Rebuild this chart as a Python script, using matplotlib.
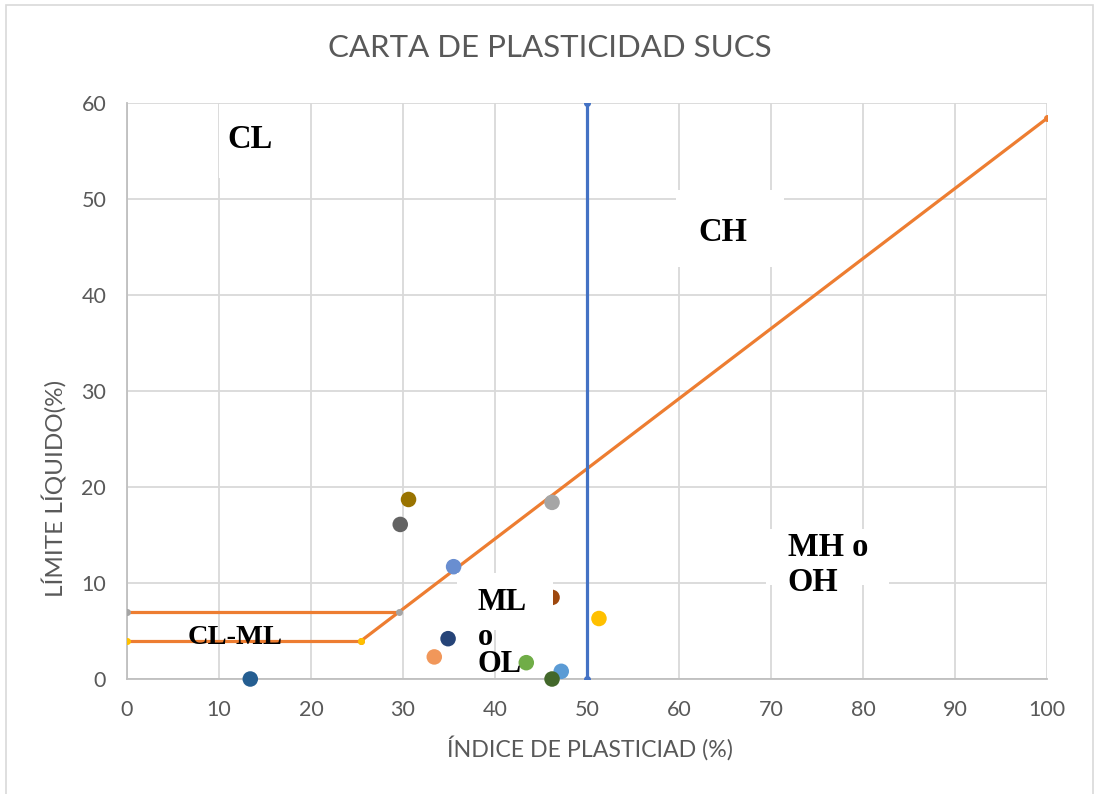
import matplotlib
matplotlib.use("Agg")
import matplotlib.pyplot as plt
from matplotlib.patches import Rectangle

# Sample points (plasticity index, liquid limit)
ip_values = [30.6, 29.7, 46.2, 35.5, 46.2, 51.3, 34.9, 33.4, 43.4, 47.2, 46.2, 13.4]
ll_values = [18.7, 16.1, 18.4, 11.7, 8.5, 6.3, 4.2, 2.3, 1.7, 0.8, 0.0, 0.0]
point_colors = ["#997300", "#636363", "#A5A5A5", "#698ED0", "#9E480E", "#FFC000",
                "#264478", "#F1975A", "#70AD47", "#5B9BD5", "#43682B", "#255E91"]

# Boundary lines
a_line_x = [25.48, 100]
a_line_y = [4, 58.4]
low_band_x = [0, 25.48]
low_band_y = [4, 4]
high_band_x = [0, 29.59]
high_band_y = [7, 7]
vertical_x = [50, 50]
vertical_y = [0, 60]

x_ticks = list(range(0, 101, 10))
y_ticks = list(range(0, 61, 10))

W, H = 1094, 794
fig = plt.figure(figsize=(W / 100, H / 100), dpi=100)
ax = fig.add_axes([127 / W, 1 - 679 / H, 920 / W, 576 / H])

sans = ["Lato", "DejaVu Sans"]
serif = ["Liberation Serif", "DejaVu Serif"]
gray_text = "#595959"

ax.set_xlim(0, 100)
ax.set_ylim(0, 60)
ax.set_xticks(x_ticks)
ax.set_yticks(y_ticks)
ax.grid(True, color="#D9D9D9", linewidth=1.3, zorder=0)
ax.set_axisbelow(True)
for side in ("top", "right"):
    ax.spines[side].set_visible(False)
for side in ("left", "bottom"):
    ax.spines[side].set_color("#BFBFBF")
    ax.spines[side].set_linewidth(1.3)
ax.tick_params(length=0, pad=15, labelsize=15.5, labelcolor=gray_text)
for lbl in ax.get_xticklabels() + ax.get_yticklabels():
    lbl.set_family(sans)

# Label background boxes (hide the grid behind region names)
boxes = [(10.0, 52.2, 9.4, 7.7), (59.7, 42.9, 11.7, 8.0),
         (69.5, 9.8, 13.3, 5.8)]
for bx, by, bw, bh in boxes:
    ax.add_patch(Rectangle((bx, by), bw, bh, facecolor="white",
                           edgecolor="none", zorder=1))

orange = "#ED7D31"
ax.plot(a_line_x, a_line_y, color=orange, lw=2.3, marker="o", ms=4,
        mfc=orange, mec=orange, zorder=3)
ax.plot(high_band_x, high_band_y, color=orange, lw=2.3, marker="o", ms=4,
        mfc="#A5A5A5", mec="#A5A5A5", zorder=3)
ax.plot(low_band_x, low_band_y, color=orange, lw=2.3, marker="o", ms=4,
        mfc="#FFC000", mec="#FFC000", zorder=3)
ax.plot(vertical_x, vertical_y, color="#4472C4", lw=2.3, marker="o", ms=4,
        mfc="#4472C4", mec="#4472C4", zorder=3)

ax.scatter(ip_values, ll_values, s=125, c=point_colors, zorder=4,
           linewidths=0, clip_on=False)

# Cover for the ML/OL region label (sits above the points)
ax.add_patch(Rectangle((35.9, 5.1), 10.4, 5.9, facecolor="white",
                       edgecolor="none", zorder=5))

txt = dict(fontfamily=serif, fontweight="bold", color="black", zorder=6,
           ha="left", va="center")
ax.text(10.9, 56.2, "CL", fontsize=23.5, **txt)
ax.text(62.1, 46.5, "CH", fontsize=23.5, **txt)
ax.text(71.8, 13.7, "MH o", fontsize=23.5, **txt)
ax.text(71.8, 10.1, "OH", fontsize=23.5, **txt)
ax.text(38.1, 8.0, "ML", fontsize=22, **txt)
ax.text(38.1, 4.3, "o", fontsize=22, **txt)
ax.text(38.1, 1.5, "OL", fontsize=22, **txt)
ax.text(6.6, 4.3, "CL-ML", fontsize=20.5, **txt)

fig.text(550 / W, 1 - 48 / H, "CARTA DE PLASTICIDAD SUCS", ha="center",
         va="center", fontsize=22.5, color=gray_text, family=sans)
fig.text(590 / W, 1 - 748 / H, "ÍNDICE DE PLASTICIAD (%)", ha="center",
         va="center", fontsize=16.7, color=gray_text, family=sans)
fig.text(55 / W, 1 - 488 / H, "LÍMITE LÍQUIDO(%)", ha="center", va="center",
         rotation=90, fontsize=17.5, color=gray_text, family=sans)

# Chart area frame
fig.patches.append(Rectangle((6 / W, -0.01), 1087 / W, 1 - 5 / H + 0.01,
                             transform=fig.transFigure, fill=False,
                             edgecolor="#D9D9D9", linewidth=1.2))

fig.savefig("out.png", dpi=100)
